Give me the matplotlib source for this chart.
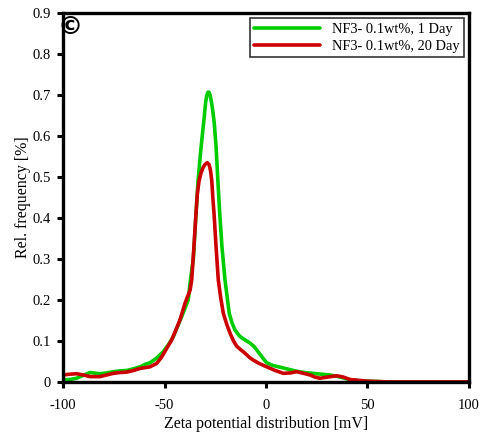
import matplotlib
matplotlib.use("Agg")
import matplotlib.pyplot as plt

# Data
green_x = [-100, -96.5, -93.3, -90, -86.7, -81.8, -78.5, -75.2, -71.9, -68.6, -65.3, -62,
           -59.5, -57.1, -53.9, -50.6, -48.2, -45.7, -43.6, -41.5, -39.9, -38.3, -37.2,
           -35.8, -34.6, -33.5, -32.2, -31.2, -30.5, -29.7, -29.1, -28.6, -28.1, -27.5,
           -26.9, -26.3, -25.5, -24.6, -23.8, -22.9, -21.7, -20.2, -18.1, -16.8, -15.3,
           -14.0, -12.8, -10.5, -7.9, -5.8, -3.8, -1.5, 0.3, 3.5, 6.9, 11.0, 15.1, 19.0,
           23, 27, 31.5, 36.5, 41.4, 45.5, 49.6, 55, 60, 70, 80, 90, 100]
green_y = [0.005, 0.006, 0.009, 0.016, 0.023, 0.02, 0.022, 0.025, 0.027, 0.028, 0.032, 0.037,
           0.043, 0.047, 0.058, 0.074, 0.09, 0.11, 0.135, 0.16, 0.18, 0.2, 0.25,
           0.3, 0.4, 0.489, 0.562, 0.61, 0.643, 0.684, 0.70, 0.707, 0.707, 0.70,
           0.684, 0.665, 0.632, 0.575, 0.50, 0.42, 0.33, 0.249, 0.167, 0.145, 0.127,
           0.118, 0.111, 0.103, 0.095, 0.086, 0.073, 0.058, 0.047, 0.04, 0.036, 0.031, 0.026, 0.023,
           0.021, 0.019, 0.017, 0.012, 0.005, 0.003, 0.002, 0.001, 0.0, 0.0, 0.0, 0.0, 0.0]

red_x = [-100, -96.5, -93.3, -90, -86.7, -81.8, -78.5, -75.2, -71.9, -68.6, -65.3, -62,
         -59.5, -57.1, -53.9, -51.5, -48.9, -46.5, -44.3, -42.4, -39.9, -38.5, -37.4, -36.6,
         -35.5, -34.5, -33.8, -33.0, -32.0, -31.0, -30.0, -28.9, -28.0, -27.3, -26.7,
         -26.2, -25.6, -24.6, -23.5, -22.3, -21, -19.3, -17.7, -16.0, -14.4, -12.3, -10.3,
         -8.2, -6.2, -3.3, 0.3, 4.5, 8.5, 12.0, 15.1, 18.5, 21.7, 24.0, 26.6, 30.5, 34.8,
         38.0, 41.4, 45.5, 49.6, 55, 60, 70, 80, 90, 100]
red_y = [0.017, 0.019, 0.02, 0.017, 0.013, 0.013, 0.017, 0.021, 0.023, 0.024, 0.028, 0.033,
         0.035, 0.037, 0.045, 0.06, 0.082, 0.102, 0.128, 0.151, 0.192, 0.21, 0.224, 0.249,
         0.33, 0.411, 0.46, 0.49, 0.51, 0.523, 0.531, 0.535, 0.53, 0.515, 0.49,
         0.45, 0.411, 0.33, 0.249, 0.205, 0.167, 0.14, 0.119, 0.1, 0.087, 0.078, 0.07,
         0.06, 0.053, 0.045, 0.037, 0.028, 0.021, 0.022, 0.025, 0.021, 0.017, 0.012, 0.009, 0.012, 0.015,
         0.012, 0.006, 0.004, 0.002, 0.001, 0.0, 0.0, 0.0, 0.0, 0.0]

labels = ["NF3- 0.1wt%, 1 Day", "NF3- 0.1wt%, 20 Day"]
xticks = [-100, -50, 0, 50, 100]
yticks = [0, 0.1, 0.2, 0.3, 0.4, 0.5, 0.6, 0.7, 0.8, 0.9]
ytick_labels = ["0", "0.1", "0.2", "0.3", "0.4", "0.5", "0.6", "0.7", "0.8", "0.9"]

plt.rcParams['font.family'] = ['Liberation Serif', 'DejaVu Serif']
plt.rcParams['axes.unicode_minus'] = False

fig = plt.figure(figsize=(4.81, 4.38), dpi=100)
ax = fig.add_axes([0.131, 0.128, 0.844, 0.842])

ax.plot(green_x, green_y, color="#00cc00", lw=2.6, label=labels[0],
        solid_capstyle="round", solid_joinstyle="round")
ax.plot(red_x, red_y, color="#cc0000", lw=2.6, label=labels[1],
        solid_capstyle="round", solid_joinstyle="round")

ax.set_xlim(-100, 100)
ax.set_ylim(0, 0.9)
ax.set_xticks(xticks)
ax.set_yticks(yticks)
ax.set_yticklabels(ytick_labels)
ax.tick_params(direction="out", length=4, width=2.2, labelsize=10.5)
ax.tick_params(axis="x", pad=8)
ax.tick_params(axis="y", pad=5)

for s in ax.spines.values():
    s.set_linewidth(2.4)

ax.set_xlabel("Zeta potential distribution [mV]", fontsize=11.5, labelpad=3)
ax.set_ylabel("Rel. frequency [%]", fontsize=11.5, labelpad=1)

leg = ax.legend(loc="upper right", fontsize=10.4, frameon=True, fancybox=False,
                handlelength=4.6, borderaxespad=0.35, borderpad=0.3, labelspacing=0.3,
                handletextpad=0.8)
leg.get_frame().set_edgecolor("black")
leg.get_frame().set_linewidth(1.2)

ax.text(0.018, 0.962, "\u00a9", transform=ax.transAxes, fontsize=18, fontweight="bold",
        family="DejaVu Sans", ha="center", va="center")

fig.savefig("out.png", dpi=100)
